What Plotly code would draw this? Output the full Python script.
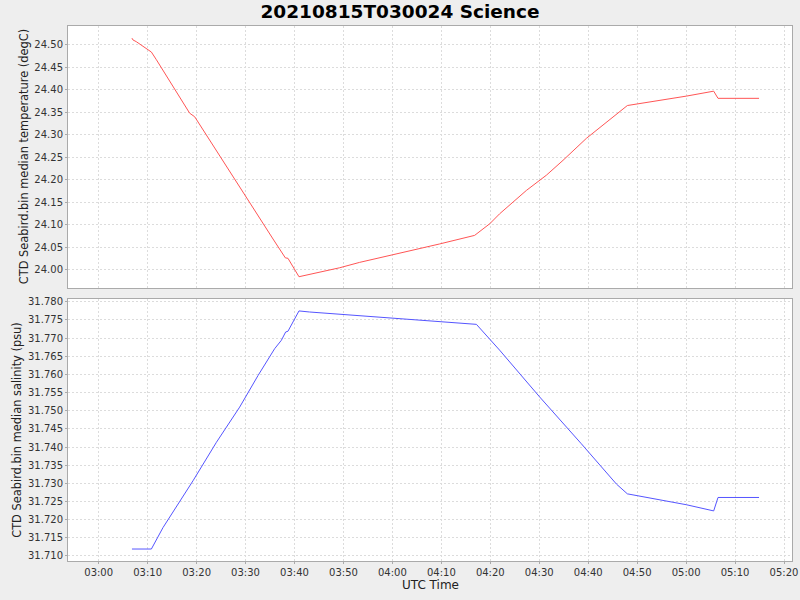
import plotly.graph_objects as go
from plotly.subplots import make_subplots

# Temperature series (UTC time, degC)
temp_time = ["2021-08-15 03:06:48", "2021-08-15 03:07:00", "2021-08-15 03:07:42",
             "2021-08-15 03:10:46", "2021-08-15 03:11:47", "2021-08-15 03:18:35",
             "2021-08-15 03:19:37", "2021-08-15 03:27:26", "2021-08-15 03:32:13",
             "2021-08-15 03:35:37", "2021-08-15 03:38:08", "2021-08-15 03:38:40",
             "2021-08-15 03:40:55", "2021-08-15 03:49:14", "2021-08-15 03:53:19",
             "2021-08-15 03:59:27", "2021-08-15 04:09:40", "2021-08-15 04:16:48",
             "2021-08-15 04:19:54", "2021-08-15 04:21:54", "2021-08-15 04:27:22",
             "2021-08-15 04:31:28", "2021-08-15 04:34:51", "2021-08-15 04:39:38",
             "2021-08-15 04:45:46", "2021-08-15 04:48:00", "2021-08-15 05:00:04",
             "2021-08-15 05:05:38", "2021-08-15 05:06:31", "2021-08-15 05:14:54"]
temp_vals = [24.515, 24.511, 24.507, 24.484, 24.467, 24.348, 24.340, 24.206,
             24.124, 24.068, 24.026, 24.025, 23.984, 24.004, 24.016, 24.031,
             24.057, 24.076, 24.102, 24.124, 24.176, 24.210, 24.243, 24.292,
             24.344, 24.365, 24.386, 24.397, 24.381, 24.381]

# Salinity series (UTC time, psu)
sal_time = ["2021-08-15 03:06:48", "2021-08-15 03:10:46", "2021-08-15 03:13:08",
            "2021-08-15 03:19:16", "2021-08-15 03:24:03", "2021-08-15 03:28:48",
            "2021-08-15 03:32:33", "2021-08-15 03:33:54", "2021-08-15 03:35:57",
            "2021-08-15 03:37:19", "2021-08-15 03:38:12", "2021-08-15 03:38:40",
            "2021-08-15 03:40:55", "2021-08-15 03:43:06", "2021-08-15 04:01:29",
            "2021-08-15 04:02:52", "2021-08-15 04:10:20", "2021-08-15 04:17:10",
            "2021-08-15 04:21:54", "2021-08-15 04:30:05", "2021-08-15 04:38:36",
            "2021-08-15 04:45:46", "2021-08-15 04:48:00", "2021-08-15 04:51:53",
            "2021-08-15 05:00:04", "2021-08-15 05:05:38", "2021-08-15 05:06:31",
            "2021-08-15 05:14:54"]
sal_vals = [31.7119, 31.7119, 31.7178, 31.7307, 31.7413, 31.7510, 31.7597,
            31.7625, 31.7671, 31.7694, 31.7717, 31.7719, 31.7775, 31.7772,
            31.7754, 31.7753, 31.7745, 31.7738, 31.7667, 31.7538, 31.7409,
            31.7298, 31.7271, 31.7261, 31.7241, 31.7224, 31.7261, 31.7261]

x_range = ["2021-08-15 02:53:44", "2021-08-15 05:21:38"]

fig = make_subplots(rows=2, cols=1, shared_xaxes=True, vertical_spacing=0.019)

fig.add_trace(go.Scatter(x=temp_time, y=temp_vals, mode="lines",
                         line=dict(color="#ff5555", width=1), showlegend=False),
              row=1, col=1)
fig.add_trace(go.Scatter(x=sal_time, y=sal_vals, mode="lines",
                         line=dict(color="#5555ff", width=1), showlegend=False),
              row=2, col=1)

grid = dict(showgrid=True, gridcolor="#dcdcdc", griddash="2px,2px", gridwidth=1,
            showline=True, linecolor="#aaaaaa", linewidth=1, mirror=True,
            zeroline=False, ticks="outside", ticklen=2, tickcolor="#aaaaaa",
            automargin=False, tickfont=dict(size=10, color="#333333"))

fig.update_xaxes(range=x_range, dtick=600000, tickformat="%H:%M", **grid)
fig.update_xaxes(showticklabels=False, ticks="", row=1, col=1)

fig.update_yaxes(range=[23.958, 24.542], dtick=0.05, tickformat=".2f",
                 row=1, col=1, **grid)
fig.update_yaxes(range=[31.7086, 31.7809], dtick=0.005, tickformat=".3f",
                 row=2, col=1, **grid)

# axis titles placed as annotations so they sit where the reference has them
title_font = dict(size=11.4, color="#222222")
top_dom = fig.layout.yaxis.domain
bot_dom = fig.layout.yaxis2.domain
fig.add_annotation(text="CTD Seabird.bin median temperature (degC)", textangle=-90,
                   xref="paper", yref="paper", x=0, y=(top_dom[0] + top_dom[1]) / 2,
                   xanchor="center", yanchor="middle", xshift=-44, showarrow=False,
                   font=title_font)
fig.add_annotation(text="CTD Seabird.bin median salinity (psu)", textangle=-90,
                   xref="paper", yref="paper", x=0, y=(bot_dom[0] + bot_dom[1]) / 2,
                   xanchor="center", yanchor="middle", xshift=-51, showarrow=False,
                   font=title_font)
fig.add_annotation(text="UTC Time", xref="paper", yref="paper", x=0.5, y=0,
                   xanchor="center", yanchor="middle", yshift=-24, showarrow=False,
                   font=dict(size=12, color="#222222"))

fig.update_layout(
    width=800, height=600,
    paper_bgcolor="#eeeeee", plot_bgcolor="white",
    font=dict(family="DejaVu Sans", color="#333333"),
    title=dict(text="<b>20210815T030024 Science</b>", x=0.5, xanchor="center",
               y=0.98, yanchor="middle", font=dict(size=18.5, color="black")),
    margin=dict(l=68, r=8, t=26, b=39),
)

fig.write_html("out.html", config={"displayModeBar": False},
               post_script="document.body.style.margin='0';")
